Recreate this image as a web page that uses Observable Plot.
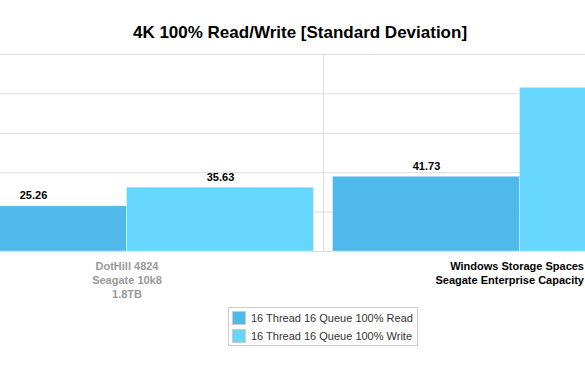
<!DOCTYPE html>
<html><head><meta charset="utf-8">
<script src="https://cdn.jsdelivr.net/npm/d3@7"></script>
<script src="https://cdn.jsdelivr.net/npm/@observablehq/plot@0.6"></script>
<style>
html,body{margin:0;padding:0;background:#fff;overflow:hidden;}
#wrap{position:relative;width:585px;height:374px;overflow:hidden;font-family:"Liberation Sans",Arial,Helvetica,sans-serif;}
#title{position:absolute;left:0;top:24px;width:600px;text-align:center;font-weight:bold;font-size:17px;line-height:17px;color:#000;}
#chart{position:absolute;left:0;top:50px;width:585px;}
#chart svg{overflow:hidden;}
#legend{position:absolute;left:228px;top:307px;width:188px;border:1px solid #ccc;padding:1px 0 0 0;box-sizing:content-box;background:#fff;}
.row{height:18px;display:flex;align-items:center;font-size:11px;color:#333;white-space:nowrap;}
.sw{width:12px;height:12px;border:1px solid #ccc;margin:0 5px 0 3px;flex:none;}
</style>
</head><body>
<div id="wrap">
<div id="title"></div>
<div id="chart"></div>
<div id="legend"></div>
</div>
<script>
const titleText = "4K 100% Read/Write [Standard Deviation]";
const categories = ["DotHill 4824\nSeagate 10k8\n1.8TB", "Windows Storage Spaces\nSeagate Enterprise Capacity"];
const seriesNames = ["16 Thread 16 Queue 100% Read", "16 Thread 16 Queue 100% Write"];
const readValues = [25.26, 41.73];
const writeValues = [35.63, 91.4];
const yTicks = [0, 22, 44, 66, 88, 110];
const colors = ["#4fb9eb", "#66d6fd"];

const data = categories.map((c, i) => ({category: c, read: readValues[i], write: writeValues[i]}));
// the second group's write label lies outside the visible crop in the reference
const visibleWriteLabels = data.slice(0, 1);

document.getElementById("title").textContent = titleText;

const half = 196.5, pad = 9.5, barCenterOffset = (half - pad) / 2;

const chart = Plot.plot({
  width: 585,
  height: 253,
  marginTop: 4,
  marginBottom: 52,
  marginLeft: 0,
  marginRight: 0,
  style: {fontFamily: "'Liberation Sans', Arial, sans-serif", background: "transparent"},
  x: {domain: categories, range: [-70.5, 715.5], padding: 0, axis: null},
  y: {domain: [0, 110], axis: null},
  marks: [
    Plot.gridY(yTicks, {stroke: "#dddddd", strokeOpacity: 1}),
    Plot.ruleX([categories[0]], {x: d => d, y1: 0, y2: 110, dx: half, stroke: "#dddddd"}),
    Plot.barY(data, {x: "category", y: "read", fill: colors[0], insetLeft: pad, insetRight: half, stroke: "#ffffff", strokeOpacity: 0.35, strokeWidth: 1}),
    Plot.barY(data, {x: "category", y: "write", fill: colors[1], insetLeft: half, insetRight: pad, stroke: "#ffffff", strokeOpacity: 0.35, strokeWidth: 1}),
    Plot.text(data, {x: "category", y: "read", text: d => d.read.toFixed(2), dx: -barCenterOffset, dy: -7, lineAnchor: "bottom", fontWeight: "bold", fontSize: 11, fill: "#000"}),
    Plot.text(visibleWriteLabels, {x: "category", y: "write", text: d => d.write.toFixed(2), dx: barCenterOffset, dy: -7, lineAnchor: "bottom", fontWeight: "bold", fontSize: 11, fill: "#000"}),
    Plot.text([categories[0]], {x: d => d, y: () => 0, text: d => d, lineAnchor: "top", dy: 9, lineHeight: 1.27, fontWeight: "bold", fontSize: 11, fill: "#999999"}),
    Plot.text([categories[1]], {x: d => d, y: () => 0, text: d => d, lineAnchor: "top", textAnchor: "end", dx: 64, dy: 9, lineHeight: 1.27, fontWeight: "bold", fontSize: 11, fill: "#000"})
  ]
});
document.getElementById("chart").appendChild(chart);

const legend = document.getElementById("legend");
seriesNames.forEach((name, i) => {
  const row = document.createElement("div");
  row.className = "row";
  const sw = document.createElement("span");
  sw.className = "sw";
  sw.style.background = colors[i];
  const t = document.createElement("span");
  t.textContent = name;
  row.appendChild(sw); row.appendChild(t);
  legend.appendChild(row);
});
</script>
</body></html>
